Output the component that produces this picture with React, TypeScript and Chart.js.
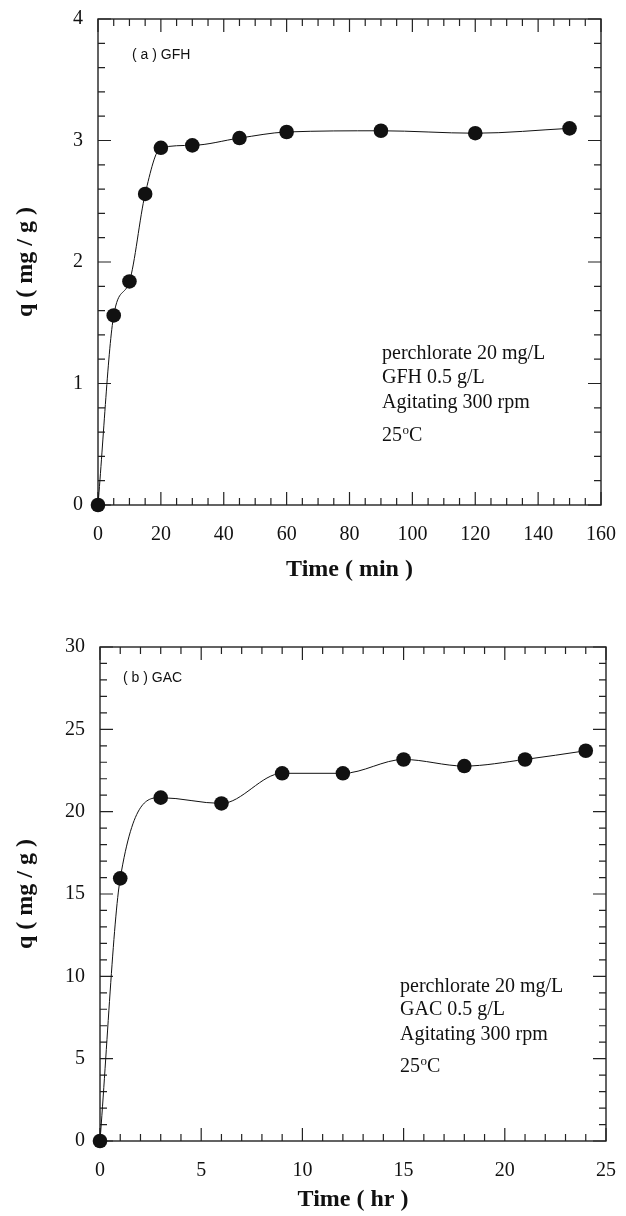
import React, { useEffect, useRef } from 'react';
import { Chart, registerables } from 'chart.js';

Chart.register(...registerables);

// Adsorption kinetics of perchlorate: uptake q (mg/g) versus contact time
const gfhTime = [0, 5, 10, 15, 20, 30, 45, 60, 90, 120, 150];
const gfhQ = [0, 1.56, 1.84, 2.56, 2.94, 2.96, 3.02, 3.07, 3.08, 3.06, 3.1];

const gacTime = [0, 1, 3, 6, 9, 12, 15, 18, 21, 24];
const gacQ = [0, 15.95, 20.85, 20.5, 22.33, 22.33, 23.17, 22.77, 23.17, 23.7];

const panelLabels = ['( a ) GFH', '( b ) GAC'];
const conditionsA = ['perchlorate 20 mg/L', 'GFH 0.5 g/L', 'Agitating 300 rpm'];
const conditionsB = ['perchlorate 20 mg/L', 'GAC 0.5 g/L', 'Agitating 300 rpm'];
const temperatureParts = ['25', 'o', 'C'];
const xTitles = ['Time ( min )', 'Time ( hr )'];
const yTitle = 'q ( mg / g )';

const SERIF = '"Times New Roman", "Liberation Serif", "DejaVu Serif", serif';
const SANS = 'Arial, "Liberation Sans", Helvetica, sans-serif';
const INK = '#111';

// Boxed frame with inward major/minor tick marks on all four sides
const framePlugin = {
  id: 'frameTicks',
  beforeDatasetsDraw(chart: any, _args: any, opts: any) {
    const { ctx, chartArea } = chart;
    const { left, right, top, bottom } = chartArea;
    ctx.save();
    ctx.strokeStyle = '#222';
    ctx.lineWidth = 1.4;
    ctx.strokeRect(left, top, right - left, bottom - top);
    ctx.lineWidth = 1.2;
    const marks = (scale: any, minor: number, major: number, horizontal: boolean) => {
      const n = Math.round((scale.max - scale.min) / minor);
      const per = Math.round(major / minor);
      for (let i = 0; i <= n; i++) {
        const v = scale.min + i * minor;
        const len = i % per === 0 ? 13 : 7;
        const p = scale.getPixelForValue(v);
        ctx.beginPath();
        if (horizontal) {
          ctx.moveTo(p, bottom);
          ctx.lineTo(p, bottom - len);
          ctx.moveTo(p, top);
          ctx.lineTo(p, top + len);
        } else {
          ctx.moveTo(left, p);
          ctx.lineTo(left + len, p);
          ctx.moveTo(right, p);
          ctx.lineTo(right - len, p);
        }
        ctx.stroke();
      }
    };
    marks(chart.scales.x, opts.xMinor, opts.xMajor, true);
    marks(chart.scales.y, opts.yMinor, opts.yMajor, false);
    ctx.restore();
  },
};

// Panel tag and experimental conditions written inside the plot area
const notesPlugin = {
  id: 'notes',
  afterDraw(chart: any, _args: any, opts: any) {
    const { ctx, chartArea } = chart;
    const { left, top } = chartArea;
    ctx.save();
    ctx.fillStyle = INK;
    ctx.textBaseline = 'alphabetic';
    ctx.textAlign = 'left';
    ctx.font = `14px ${SANS}`;
    ctx.fillText(opts.tag, left + opts.tagDx, top + opts.tagDy);

    ctx.font = `20px ${SERIF}`;
    const x = left + opts.noteDx;
    opts.lines.forEach((t: string, i: number) => {
      ctx.fillText(t, x, top + opts.lineYs[i]);
    });
    const ty = top + opts.lineYs[opts.lines.length];
    ctx.font = `20px ${SERIF}`;
    ctx.fillText(temperatureParts[0], x, ty);
    let w = ctx.measureText(temperatureParts[0]).width;
    ctx.font = `13px ${SERIF}`;
    ctx.fillText(temperatureParts[1], x + w + 0.5, ty - 7);
    w += ctx.measureText(temperatureParts[1]).width + 0.5;
    ctx.font = `20px ${SERIF}`;
    ctx.fillText(temperatureParts[2], x + w, ty);
    ctx.restore();
  },
};

type PanelProps = {
  xs: number[];
  ys: number[];
  xMax: number;
  xMajor: number;
  xMinor: number;
  yMax: number;
  yMajor: number;
  yMinor: number;
  xTitle: string;
  tag: string;
  lines: string[];
  height: number;
  padTop: number;
  padRight: number;
  yAxisWidth: number;
  xAxisHeight: number;
  xTitlePad: number;
  tagDx: number;
  tagDy: number;
  noteDx: number;
  lineYs: number[];
};

function Panel(p: PanelProps) {
  const ref = useRef<HTMLCanvasElement | null>(null);

  useEffect(() => {
    if (!ref.current) return;
    const points = p.xs.map((x, i) => ({ x, y: p.ys[i] }));
    const chart = new Chart(ref.current, {
      type: 'scatter',
      data: {
        datasets: [
          {
            data: points,
            showLine: true,
            borderColor: INK,
            borderWidth: 1,
            backgroundColor: INK,
            pointBackgroundColor: INK,
            pointBorderColor: INK,
            pointBorderWidth: 0,
            pointRadius: 7.3,
            pointHoverRadius: 7.3,
            cubicInterpolationMode: 'monotone',
            clip: false,
          } as any,
        ],
      },
      options: {
        responsive: false,
        animation: false,
        events: [],
        layout: { padding: { left: 0, right: p.padRight, top: p.padTop, bottom: 0 } },
        plugins: {
          legend: { display: false },
          tooltip: { enabled: false },
          frameTicks: { xMinor: p.xMinor, xMajor: p.xMajor, yMinor: p.yMinor, yMajor: p.yMajor },
          notes: {
            tag: p.tag,
            tagDx: p.tagDx,
            tagDy: p.tagDy,
            noteDx: p.noteDx,
            lines: p.lines,
            lineYs: p.lineYs,
          },
        } as any,
        scales: {
          x: {
            type: 'linear',
            min: 0,
            max: p.xMax,
            grid: { display: false },
            border: { display: false },
            ticks: {
              stepSize: p.xMajor,
              color: INK,
              padding: 10,
              maxRotation: 0,
              font: { family: SERIF, size: 20 },
            },
            title: {
              display: true,
              text: p.xTitle,
              color: INK,
              font: { family: SERIF, size: 24, weight: 'bold' },
              padding: { top: 0, bottom: p.xTitlePad },
            },
            afterFit: (s: any) => {
              s.height = p.xAxisHeight;
            },
          },
          y: {
            type: 'linear',
            min: 0,
            max: p.yMax,
            grid: { display: false },
            border: { display: false },
            ticks: {
              stepSize: p.yMajor,
              color: INK,
              padding: 7,
              font: { family: SERIF, size: 20 },
            },
            title: {
              display: true,
              text: yTitle,
              color: INK,
              font: { family: SERIF, size: 24, weight: 'bold' },
              padding: { top: 11, bottom: 0 },
            },
            afterFit: (s: any) => {
              s.width = p.yAxisWidth;
            },
          },
        },
      } as any,
      plugins: [framePlugin, notesPlugin],
    });
    return () => chart.destroy();
  }, []);

  return <canvas ref={ref} width={626} height={p.height} style={{ display: 'block', width: 626, height: p.height }} />;
}

export default function App() {
  return (
    <div style={{ position: 'absolute', left: 0, top: 0, width: 626, height: 1216, background: '#fff' }}>
      <Panel
        xs={gfhTime}
        ys={gfhQ}
        xMax={160}
        xMajor={20}
        xMinor={5}
        yMax={4}
        yMajor={1}
        yMinor={0.2}
        xTitle={xTitles[0]}
        tag={panelLabels[0]}
        lines={conditionsA}
        height={590}
        padTop={17}
        padRight={18.5}
        yAxisWidth={98}
        xAxisHeight={85}
        xTitlePad={6}
        tagDx={34}
        tagDy={40}
        noteDx={284}
        lineYs={[340, 364, 389, 422]}
      />
      <Panel
        xs={gacTime}
        ys={gacQ}
        xMax={25}
        xMajor={5}
        xMinor={1}
        yMax={30}
        yMajor={5}
        yMinor={1}
        xTitle={xTitles[1]}
        tag={panelLabels[1]}
        lines={conditionsB}
        height={626}
        padTop={57}
        padRight={14}
        yAxisWidth={100}
        xAxisHeight={75}
        xTitlePad={2}
        tagDx={23}
        tagDy={35}
        noteDx={300}
        lineYs={[345, 368, 393, 425]}
      />
    </div>
  );
}
